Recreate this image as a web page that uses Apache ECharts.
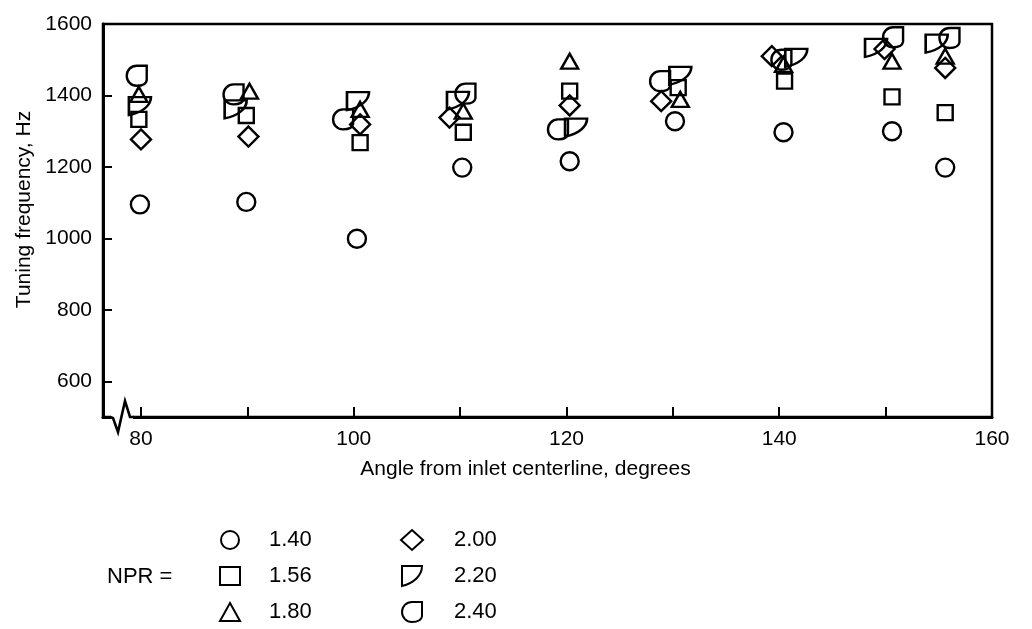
<!DOCTYPE html>
<html><head><meta charset="utf-8">
<script src="https://cdn.jsdelivr.net/npm/echarts@6/dist/echarts.min.js"></script>
<style>html,body{margin:0;padding:0;background:#fff}#c{width:1032px;height:629px}</style>
</head><body><div id="c"></div>
<script>
// ---- data (angle in degrees, tuning frequency in Hz) ----
const seriesNames = ['1.40', '1.56', '1.80', '2.00', '2.20', '2.40'];
const npr140 = [[79.9,1095],[89.9,1102],[100.3,999],[110.2,1198],[120.3,1216],[130.2,1328],[140.4,1297],[150.6,1300],[155.6,1198]];
const npr156 = [[79.8,1333],[89.9,1344],[100.6,1268],[110.3,1297],[120.3,1412],[130.5,1422],[140.5,1440],[150.6,1396],[155.6,1352]];
const npr180 = [[79.8,1403],[90.2,1412],[100.6,1361],[110.3,1356],[120.3,1496],[130.7,1389],[140.4,1487],[150.6,1496],[155.6,1510]];
const npr200 = [[80.0,1277],[90.1,1285],[100.6,1319],[109.0,1338],[120.3,1372],[128.9,1384],[139.3,1510],[149.9,1530],[155.6,1477]];
const npr220 = [[79.9,1370],[88.9,1361],[100.4,1384],[109.8,1385],[120.9,1310],[130.7,1455],[141.6,1505],[149.1,1533],[154.8,1545]];
const npr240 = [[79.6,1455],[88.7,1403],[99.0,1333],[110.5,1405],[119.2,1305],[128.8,1440],[140.2,1500],[150.7,1563],[156.0,1561]];
const xTickValues = [80, 90, 100, 110, 120, 130, 140, 150];
const xLabelValues = [80, 100, 120, 140, 160];
const yTickValues = [600, 800, 1000, 1200, 1400];
const yLabelValues = [600, 800, 1000, 1200, 1400, 1600];

const seriesData = [npr140, npr156, npr180, npr200, npr220, npr240];
const symbols = [
  'circle',
  'rect',
  'triangle',
  'diamond',
  'path://M0,0 L100,0 C100,45 62,85 0,100 Z',
  'path://M50,0 L100,0 L100,72 C97,92 78,100 50,100 C22,100 0,78 0,50 C0,22 22,0 50,0 Z'
];
const symbolSizes = [18, 15, [17, 15], [20, 20], [22, 18], [20, 20]];

const FONT = 'Liberation Sans, Arial, sans-serif';
const chart = echarts.init(document.getElementById('c'));

const series = seriesNames.map((n, i) => ({
  name: n,
  type: 'scatter',
  data: seriesData[i],
  symbol: symbols[i],
  symbolSize: symbolSizes[i],
  itemStyle: { color: 'rgba(255,255,255,0)', borderColor: '#000', borderWidth: 2.4, opacity: 1 },
  emphasis: { disabled: true },
  silent: true
}));

const legendText1 = { fontFamily: FONT, fontSize: 22, color: '#000', lineHeight: 22, padding: [0, 0, 0, 24] };
const legendText2 = { fontFamily: FONT, fontSize: 22, color: '#000', lineHeight: 22, padding: [0, 0, 0, 26] };

chart.setOption({
  animation: false,
  backgroundColor: '#fff',
  grid: { left: 103, right: 40, top: 24, bottom: 212, show: true, borderColor: '#000', borderWidth: 2.5, backgroundColor: 'transparent' },
  xAxis: {
    type: 'value', min: 76.43, max: 160,
    name: 'Angle from inlet centerline, degrees',
    nameLocation: 'middle', nameGap: 42,
    nameTextStyle: { fontFamily: FONT, fontSize: 21, color: '#000', padding: [0, 44, 0, 0] },
    axisLine: { show: true, onZero: false, lineStyle: { color: '#000', width: 3 } },
    axisTick: { show: true, inside: true, length: 10, customValues: xTickValues, lineStyle: { color: '#000', width: 2 } },
    axisLabel: { customValues: xLabelValues, fontFamily: FONT, fontSize: 21, color: '#000', margin: 12, formatter: v => String(v) },
    splitLine: { show: false }
  },
  yAxis: {
    type: 'value', min: 500, max: 1600,
    name: 'Tuning frequency, Hz',
    nameLocation: 'middle', nameGap: 67,
    nameTextStyle: { fontFamily: FONT, fontSize: 21, color: '#000', padding: [0, 0, 0, 22] },
    axisLine: { show: true, onZero: false, lineStyle: { color: '#000', width: 3 } },
    axisTick: { show: true, inside: true, length: 9, customValues: yTickValues, lineStyle: { color: '#000', width: 2 } },
    axisLabel: { customValues: yLabelValues, fontFamily: FONT, fontSize: 21, color: '#000', margin: 11, formatter: v => String(v) },
    splitLine: { show: false }
  },
  legend: [
    { data: seriesNames.slice(0, 3), orient: 'vertical', left: 219, top: 529, padding: 0, height: 110, itemWidth: 20, itemHeight: 18, itemGap: 14, textStyle: legendText1, selectedMode: false },
    { data: seriesNames.slice(3), orient: 'vertical', left: 400, top: 529, padding: 0, height: 110, itemWidth: 22, itemHeight: 20, itemGap: 14, textStyle: legendText2, selectedMode: false }
  ],
  series: series
});

// axis break symbol and "NPR =" label
const o = chart.convertToPixel({ gridIndex: 0 }, [76.43, 500]);
chart.setOption({
  graphic: [
    { type: 'rect', shape: { x: o[0] + 8, y: o[1] - 3, width: 22, height: 6 }, style: { fill: '#fff' }, z: 100 },
    { type: 'polyline', shape: { points: [[o[0] + 7, o[1]], [o[0] + 10, o[1] + 1], [o[0] + 15, o[1] + 15], [o[0] + 22, o[1] - 16], [o[0] + 27, o[1]], [o[0] + 31, o[1]]] },
      style: { stroke: '#000', lineWidth: 2.6, fill: null }, z: 101 },
    { type: 'text', left: 107, top: 566, style: { text: 'NPR =', fontFamily: FONT, fontSize: 22, fill: '#000' }, z: 101 }
  ]
});
</script>
</body></html>
